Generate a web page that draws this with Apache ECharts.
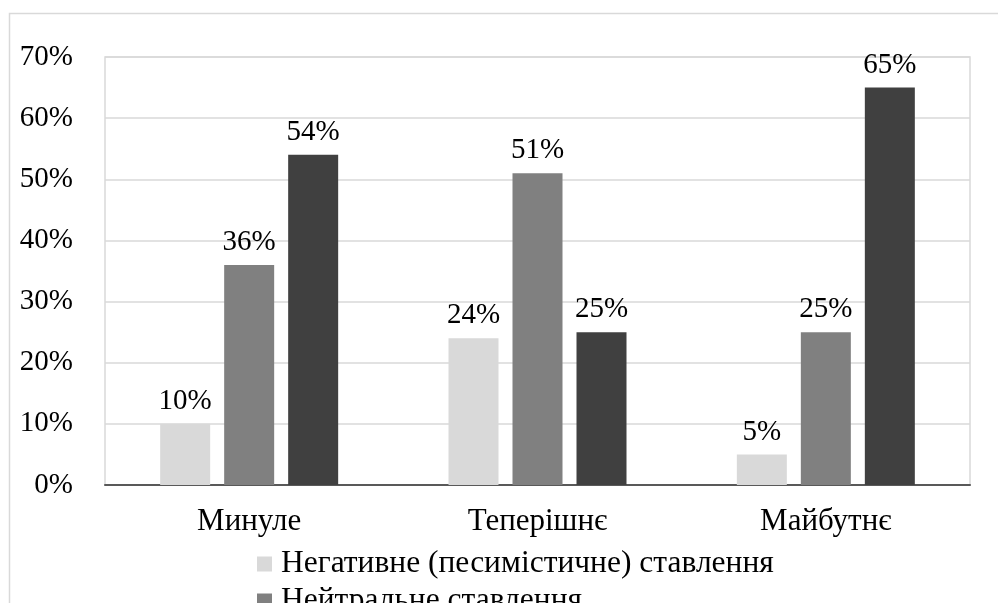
<!DOCTYPE html>
<html>
<head>
<meta charset="utf-8">
<script src="https://cdn.jsdelivr.net/npm/echarts@6/dist/echarts.min.js"></script>
<style>
html,body{margin:0;padding:0;background:#fff;}
#chart{width:998px;height:603px;}
</style>
</head>
<body>
<div id="chart"></div>
<script>
const categories = ['Минуле', 'Теперішнє', 'Майбутнє'];
const seriesNames = ['Негативне (песимістичне) ставлення', 'Нейтральне ставлення', 'Позитивне (оптимістичне) ставлення'];
const negativeValues = [10, 24, 5];
const neutralValues = [36, 51, 25];
const positiveValues = [54, 25, 65];
const yTicks = [0, 10, 20, 30, 40, 50, 60, 70];

const colors = ['#d9d9d9', '#808080', '#404040'];
const FONT = '"Liberation Serif", "Times New Roman", serif';
const chart = echarts.init(document.getElementById('chart'));

const dataSets = [negativeValues, neutralValues, positiveValues];
const series = dataSets.map((vals, i) => ({
  name: seriesNames[i],
  type: 'bar',
  data: vals,
  barWidth: 50,
  barGap: '28%',
  itemStyle: { color: colors[i] },
  label: {
    show: true,
    position: 'top',
    distance: 8,
    formatter: '{c}%',
    fontFamily: FONT,
    fontSize: 29,
    color: '#000'
  }
}));

chart.setOption({
  animation: false,
  backgroundColor: '#fff',
  graphic: [{
    type: 'rect',
    shape: { x: 9.5, y: 13.5, width: 1200, height: 800 },
    style: { fill: 'none', stroke: '#d9d9d9', lineWidth: 1.5 },
    z: -1
  }],
  grid: {
    left: 105, right: 28, top: 57, bottom: 118,
    show: true, borderColor: '#d9d9d9', borderWidth: 1.5
  },
  legend: {
    orient: 'vertical',
    left: 252,
    top: 543,
    height: 200,
    itemWidth: 15,
    itemHeight: 15,
    itemGap: 5,
    icon: 'rect',
    data: seriesNames,
    textStyle: { fontFamily: FONT, fontSize: 31.5, lineHeight: 30, color: '#000', padding: [0, 0, 0, 4] }
  },
  xAxis: {
    type: 'category',
    data: categories,
    axisLine: { show: true, lineStyle: { color: '#595959', width: 2 } },
    axisTick: { show: false },
    axisLabel: { fontFamily: FONT, fontSize: 31, color: '#000', margin: 21 }
  },
  yAxis: {
    type: 'value',
    min: yTicks[0],
    max: yTicks[yTicks.length - 1],
    interval: 10,
    axisLine: { show: false },
    axisTick: { show: false },
    splitLine: { lineStyle: { color: '#d9d9d9', width: 1.5 } },
    axisLabel: { fontFamily: FONT, fontSize: 29, color: '#000', margin: 32, formatter: '{value}%' }
  },
  series: series
});
</script>
</body>
</html>
